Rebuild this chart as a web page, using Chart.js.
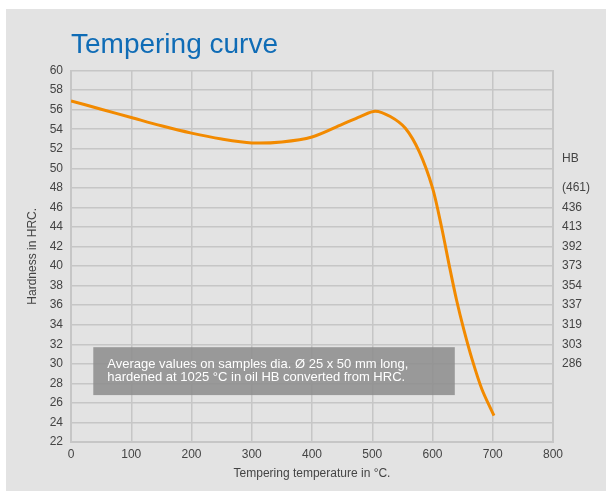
<!DOCTYPE html>
<html>
<head>
<meta charset="utf-8">
<script src="https://cdn.jsdelivr.net/npm/chart.js@4.4.1/dist/chart.umd.min.js"></script>
<style>
  html, body { margin: 0; padding: 0; background: #ffffff; }
  #panel { position: absolute; left: 6px; top: 9px; width: 600px; height: 482px; background: #e3e3e3; }
</style>
</head>
<body>
<div id="panel"><canvas id="curve" width="600" height="482"></canvas></div>
<script>
// tempering temperature (°C) vs hardness (HRC)
const temperatures = [0, 50, 100, 150, 200, 250, 300, 350, 400, 450, 480, 505, 530, 555, 578, 600, 615, 628, 640, 652, 666, 682, 702];
const hardness = [56.9, 56.05, 55.2, 54.35, 53.6, 53.0, 52.6, 52.7, 53.2, 54.5, 55.3, 55.85, 55.3, 54.1, 51.7, 48.0, 44.0, 40.0, 36.5, 33.5, 30.4, 27.4, 24.7];

// right hand HB scale, one label per HRC grid line
const hrcForHb = [48, 46, 44, 42, 40, 38, 36, 34, 32, 30];
const hbLabels = ["(461)", "436", "413", "392", "373", "354", "337", "319", "303", "286"];
const hbTitleAt = 51;

const noteLines = [
  "Average values on samples dia. Ø 25 x 50 mm long,",
  "hardened at 1025 °C in oil HB converted from HRC.",
];
const noteBox = { x0: 37, x1: 637, y0: 26.8, y1: 31.7 };

const gridColor = "#c6c6c6";
const tickColor = "#444444";
const fontFamily = "'Liberation Sans', Arial, sans-serif";

// grey note box with white text, placed through the scales
const notePlugin = {
  id: "note",
  afterDatasetsDraw(chart) {
    const { ctx, scales } = chart;
    const left = scales.x.getPixelForValue(noteBox.x0);
    const right = scales.x.getPixelForValue(noteBox.x1);
    const top = scales.y.getPixelForValue(noteBox.y1);
    const bottom = scales.y.getPixelForValue(noteBox.y0);
    ctx.save();
    ctx.fillStyle = "rgba(140,140,140,0.85)";
    ctx.fillRect(left, top, right - left, bottom - top);
    ctx.fillStyle = "#ffffff";
    ctx.font = "13px " + fontFamily;
    ctx.textBaseline = "middle";
    noteLines.forEach((line, i) => {
      ctx.fillText(line, left + 14, top + 17 + i * 13);
    });
    ctx.restore();
  },
};

const ctx = document.getElementById("curve").getContext("2d");

new Chart(ctx, {
  type: "line",
  data: {
    datasets: [
      {
        data: temperatures.map((t, i) => ({ x: t, y: hardness[i] })),
        borderColor: "#f28a00",
        borderWidth: 3,
        pointRadius: 0,
        tension: 0.3,
        fill: false,
      },
    ],
  },
  options: {
    responsive: false,
    animation: false,
    layout: { padding: { left: 14, right: 3, top: 14, bottom: 9 } },
    plugins: {
      legend: { display: false },
      tooltip: { enabled: false },
      title: {
        display: true,
        text: "Tempering curve",
        align: "start",
        fullSize: false,
        color: "#0f6cb6",
        font: { family: fontFamily, size: 28, weight: "normal" },
        padding: { top: 5, bottom: 9 },
      },
    },
    scales: {
      x: {
        type: "linear",
        min: 0,
        max: 800,
        afterFit: (s) => { s.height = 40; },
        ticks: {
          stepSize: 100,
          padding: 5,
          color: tickColor,
          font: { family: fontFamily, size: 12 },
        },
        grid: { color: gridColor, lineWidth: 1.5, drawTicks: false },
        border: { color: gridColor, width: 2 },
        title: {
          display: true,
          text: "Tempering temperature in °C.",
          color: tickColor,
          font: { family: fontFamily, size: 12 },
          padding: { top: 0, bottom: 1 },
        },
      },
      y: {
        min: 22,
        max: 60,
        afterFit: (s) => { s.width = 65 - 14; },
        ticks: {
          stepSize: 2,
          padding: 8,
          color: tickColor,
          font: { family: fontFamily, size: 12 },
        },
        grid: { color: gridColor, lineWidth: 1.5, drawTicks: false },
        border: { color: gridColor, width: 2 },
        title: {
          display: true,
          text: "Hardness in HRC.",
          color: tickColor,
          font: { family: fontFamily, size: 12 },
          padding: { top: 5, bottom: 0 },
        },
      },
      y2: {
        position: "right",
        min: 22,
        max: 60,
        afterFit: (s) => { s.width = 50; },
        afterBuildTicks: (s) => {
          s.ticks = [{ value: hbTitleAt }].concat(hrcForHb.map((v) => ({ value: v })));
        },
        ticks: {
          padding: 9,
          color: tickColor,
          font: { family: fontFamily, size: 12 },
          callback: (value) => {
            if (value === hbTitleAt) return "HB";
            const i = hrcForHb.indexOf(value);
            return i >= 0 ? hbLabels[i] : "";
          },
        },
        grid: { display: false, drawTicks: false },
        border: { color: gridColor, width: 2 },
      },
    },
  },
  plugins: [notePlugin],
});
</script>
</body>
</html>
